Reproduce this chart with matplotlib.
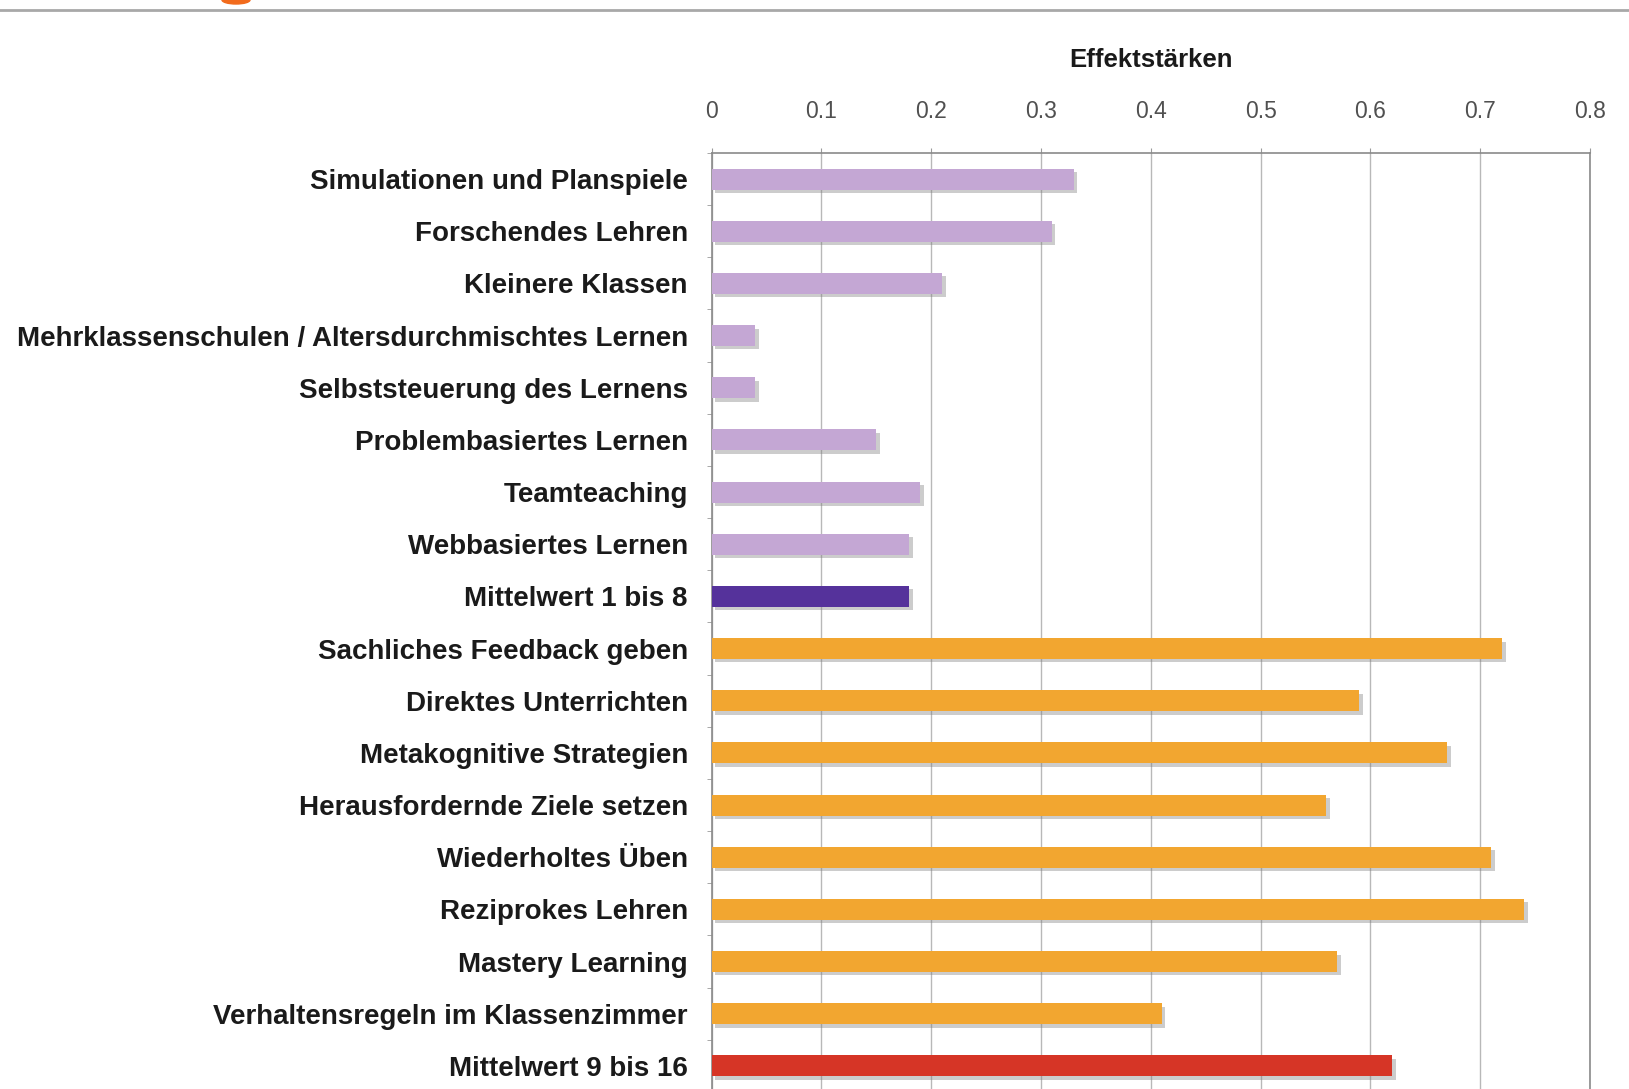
import numpy as np
import matplotlib.pyplot as plt
import matplotlib.patheffects as pe
from matplotlib.lines import Line2D
from matplotlib.patches import Ellipse

labels = [
    "Simulationen und Planspiele",
    "Forschendes Lehren",
    "Kleinere Klassen",
    "Mehrklassenschulen / Altersdurchmischtes Lernen",
    "Selbststeuerung des Lernens",
    "Problembasiertes Lernen",
    "Teamteaching",
    "Webbasiertes Lernen",
    "Mittelwert 1 bis 8",
    "Sachliches Feedback geben",
    "Direktes Unterrichten",
    "Metakognitive Strategien",
    "Herausfordernde Ziele setzen",
    "Wiederholtes Üben",
    "Reziprokes Lehren",
    "Mastery Learning",
    "Verhaltensregeln im Klassenzimmer",
    "Mittelwert 9 bis 16",
]
values = [0.33, 0.31, 0.21, 0.04, 0.04, 0.15, 0.19, 0.18, 0.18,
          0.72, 0.59, 0.67, 0.56, 0.71, 0.74, 0.57, 0.41, 0.62]
groups = ["a"] * 8 + ["a_mean"] + ["b"] * 8 + ["b_mean"]
x_ticks = [0, 0.1, 0.2, 0.3, 0.4, 0.5, 0.6, 0.7, 0.8]
x_ticklabels = ["0", "0.1", "0.2", "0.3", "0.4", "0.5", "0.6", "0.7", "0.8"]

palette = {"a": "#C4A7D4", "a_mean": "#55329B", "b": "#F2A630", "b_mean": "#D63526"}
colors = [palette[g] for g in groups]

fam = ["Liberation Sans", "DejaVu Sans"]

W, H = 1629, 1089
fig = plt.figure(figsize=(W / 100, H / 100), dpi=100)
fig.patch.set_facecolor("white")

left, right, top, bottom = 711.5, 1590, 153, 1092
ax = fig.add_axes([left / W, 1 - bottom / H, (right - left) / W, (bottom - top) / H])

y = np.arange(len(labels))
bars = ax.barh(y, values, height=0.4, color=colors, zorder=3)
for b in bars:
    b.set_path_effects([pe.SimplePatchShadow(offset=(2.5, -2.5), shadow_rgbFace="#808080", alpha=0.4),
                        pe.Normal()])

ax.set_xlim(0, 0.8)
ax.set_ylim(len(labels) - 0.5, -0.5)

ax.xaxis.tick_top()
ax.set_xticks(x_ticks)
ax.set_xticklabels(x_ticklabels, family=fam, fontsize=16.5, color="#505050")
ax.tick_params(axis="x", direction="out", length=3.5, color="#9A9A9A", pad=18)
ax.grid(axis="x", color="#B8B8B8", lw=1, zorder=0)

ax.set_yticks(y)
ax.set_yticklabels(labels, family=fam, fontsize=20, fontweight="bold", color="#1A1A1A")
ax.set_yticks(np.arange(len(labels) + 1) - 0.5, minor=True)
ax.tick_params(axis="y", which="major", length=0, pad=17)
ax.tick_params(axis="y", which="minor", direction="out", length=3.5, color="#9A9A9A")

for s in ["top", "left", "right"]:
    ax.spines[s].set_color("#8A8A8A")
    ax.spines[s].set_linewidth(1.2)
ax.spines["bottom"].set_visible(False)

fig.text((left + right) / 2 / W, 1 - 60 / H, "Effektstärken", ha="center", va="center",
         family=fam, fontsize=18.5, fontweight="bold", color="#1A1A1A")

# slide decoration at the top edge
fig.add_artist(Line2D([0, 1], [1 - 10 / H] * 2, color="#A8A8A8", lw=2, transform=fig.transFigure))
fig.add_artist(Ellipse((236 / W, 1), 28 / W, 8 / H, color="#F26B1D", transform=fig.transFigure))

fig.savefig("out.png", dpi=100, facecolor="white")
